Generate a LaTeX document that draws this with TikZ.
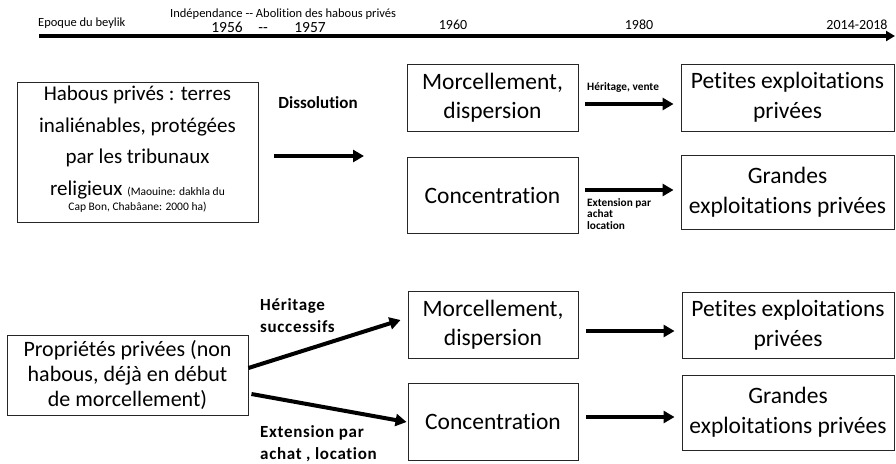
\documentclass[tikz,border=0pt]{standalone}
\usepackage{fontspec}
\setmainfont[Ligatures={NoCommon}]{Carlito}
\usetikzlibrary{arrows.meta,calc}
\tikzset{
  box/.style={draw=black!85, line width=0.9pt, align=center, inner sep=0pt, font=\fontsize{23.5}{28.5}\selectfont},
  arr/.style={line width=4pt, -{Triangle[length=11pt,width=12pt]}},
  lbl/.style={font=\fontsize{17}{22}\selectfont\bfseries, inner sep=0pt},
  slbl/.style={font=\fontsize{11.3}{11.8}\selectfont\bfseries, inner sep=0pt, align=left},
  tl/.style={font=\fontsize{12.5}{14}\selectfont, inner sep=0pt},
  yr/.style={font=\fontsize{14}{16}\selectfont, inner sep=0pt},
}
\begin{document}
\begin{tikzpicture}[x=1pt,y=-1pt]
\useasboundingbox (0,0) rectangle (896,463);
% timeline
\coordinate (t0) at (39,36);
\coordinate (t1) at (895,36);
\draw[line width=3.5pt, -{Triangle[length=9pt,width=10pt]}] (t0) -- (t1);
\node[tl, anchor=west] (ep) at (38,23) {Epoque du beylik};
\node[tl, anchor=west] (ind) at (170,14) {Indépendance -{}- Abolition des habous privés};
\node[inner sep=0pt, font=\fontsize{15.5}{17}\selectfont] (y56) at (227,27.5) {1956};
\node[inner sep=0pt, font=\fontsize{15.5}{17}\selectfont, anchor=base] (dd) at (263,32) {-{}-};
\node[inner sep=0pt, font=\fontsize{15.5}{17}\selectfont] (y57) at (310,27.5) {1957};
\node[yr] (y60) at (453,25) {1960};
\node[yr] (y80) at (639,25) {1980};
\node[yr] (y14) at (857,25) {2014-2018};

% upper part
\node[box, minimum width=241pt, minimum height=140pt] (hab) at (137.5,152) {};
\node[inner sep=0pt, font=\fontsize{21}{25}\selectfont] (h1) at (137.5,95) {Habous privés : terres};
\node[inner sep=0pt, font=\fontsize{21}{25}\selectfont] (h2) at (137.5,127) {inaliénables, protégées};
\node[inner sep=0pt, font=\fontsize{21}{25}\selectfont] (h3) at (137.5,158) {par les tribunaux};
\node[inner sep=0pt, font=\fontsize{21}{25}\selectfont, anchor=base] (h4) at (137.5,195) {religieux {\fontsize{11.5}{14}\selectfont(Maouine: dakhla du}};
\node[inner sep=0pt, font=\fontsize{11.5}{14}\selectfont] (h5) at (137.5,207) {Cap Bon, Chabâane: 2000 ha)};
\node[lbl] (diss) at (318,103) {Dissolution};
\coordinate (d0) at (274,156);
\coordinate (d1) at (364,156);
\draw[arr] (d0) -- (d1);

\node[box, minimum width=171pt, minimum height=67pt] (m1) at (492.5,97.5) {Morcellement,\\dispersion};
\node[box, minimum width=171pt, minimum height=76pt] (c1) at (492.5,195) {Concentration};
\node[box, minimum width=213pt, minimum height=67pt, font=\fontsize{23.5}{30}\selectfont] (p1) at (787.5,97.5) {Petites exploitations\\privées};
\node[box, minimum width=213pt, minimum height=74pt, font=\fontsize{23.5}{30}\selectfont] (g1) at (787.5,192) {Grandes\\exploitations privées};

\draw[arr] ($(m1.east)+(7,6.5)$) -- ($(p1.west)+(-7,6.5)$);
\node[slbl, anchor=west] (hv) at (587,87) {Héritage, vente};
\draw[arr] ($(c1.east)+(7,-5)$) -- ($(g1.west)+(-7,-2)$);
\node[slbl, anchor=north west] (ext1) at (587,198) {Extension par\\achat\\location};

% lower part
\node[box, minimum width=241pt, minimum height=80pt, font=\fontsize{22}{25}\selectfont] (prop) at (127.5,375)
  {Propriétés privées (non\\habous, déjà en début\\de morcellement)};
\node[box, minimum width=170pt, minimum height=67pt] (m2) at (493,324.5) {Morcellement,\\dispersion};
\node[box, minimum width=170pt, minimum height=77pt] (c2) at (493,421.5) {Concentration};
\node[box, minimum width=212pt, minimum height=66pt, font=\fontsize{23.5}{30}\selectfont] (p2) at (788,325) {Petites exploitations\\privées};
\node[box, minimum width=212pt, minimum height=75pt, font=\fontsize{23.5}{30}\selectfont] (g2) at (788,412.5) {Grandes\\exploitations privées};

\draw[arr] ($(prop.east)+(0,-7)$) -- ($(m2.west)+(-7,-4.5)$);
\draw[arr] ($(prop.east)+(3,19)$) -- ($(c2.west)+(-1,0.5)$);
\node[lbl, anchor=north west, align=left, font=\fontsize{17}{22}\selectfont\bfseries\addfontfeatures{LetterSpace=4}] (hs) at (260,298) {Héritage\\successifs};
\node[lbl, anchor=north west, align=left, font=\fontsize{17}{22}\selectfont\bfseries\addfontfeatures{LetterSpace=4}] (ea) at (260,425) {Extension par\\achat , location};
\draw[arr] ($(m2.east)+(8,6.5)$) -- ($(p2.west)+(-7,6)$);
\draw[arr] ($(c2.east)+(8,-4.5)$) -- ($(g2.west)+(-7,4.5)$);
\end{tikzpicture}
\end{document}
